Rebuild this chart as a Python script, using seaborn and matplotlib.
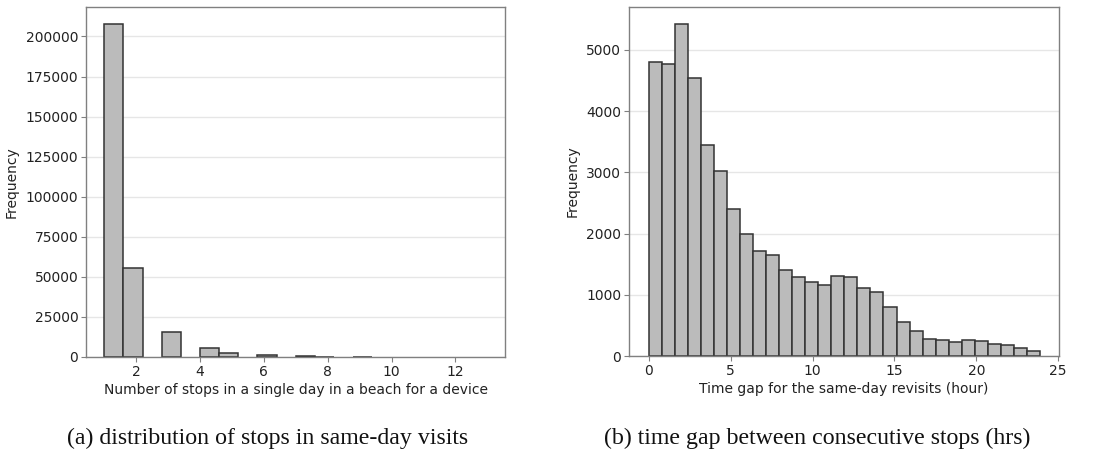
import numpy as np
import pandas as pd
import matplotlib
matplotlib.use("Agg")
import matplotlib.pyplot as plt
import seaborn as sns

# ---- data ----
stop_values = [1, 2, 3, 4, 5, 6, 7, 8, 9, 10, 11, 12, 13]
stop_freq = [208000, 55500, 15700, 5900, 2300, 1250, 600, 300, 150, 0, 0, 0, 0]
stop_bins = 20
stop_range = (1, 13)

gap_counts = [4798, 4776, 5431, 4541, 3444, 3018, 2396, 1987, 1714, 1648,
              1403, 1288, 1212, 1163, 1305, 1283, 1108, 1053, 797, 562,
              415, 278, 257, 235, 262, 251, 202, 186, 136, 76]
gap_range = (0.0, 23.88)
gap_bins = 30

caption_a = "(a) distribution of stops in same-day visits"
caption_b = "(b) time gap between consecutive stops (hrs)"
xlabel_a = "Number of stops in a single day in a beach for a device"
xlabel_b = "Time gap for the same-day revisits (hour)"
ylabel = "Frequency"

# ---- build tables ----
df_stops = pd.DataFrame({"stops": stop_values, "freq": stop_freq})
edges = np.linspace(gap_range[0], gap_range[1], gap_bins + 1)
centers = (edges[:-1] + edges[1:]) / 2
df_gap = pd.DataFrame({"gap": centers, "count": gap_counts})

sns.set_theme(style="white")
plt.rcParams["font.family"] = ["DejaVu Sans"]

fig = plt.figure(figsize=(11.06, 4.55), dpi=100)
ax1 = fig.add_axes([86 / 1106, 98 / 455, 419 / 1106, 350 / 455])
ax2 = fig.add_axes([629 / 1106, 99 / 455, 430 / 1106, 349 / 455])

bar_kw = dict(color="#bbbbbb", alpha=1.0, edgecolor="#333333", linewidth=1.1)

sns.histplot(data=df_stops, x="stops", weights="freq", bins=stop_bins,
             binrange=stop_range, ax=ax1, **bar_kw)
sns.histplot(data=df_gap, x="gap", weights="count", bins=gap_bins,
             binrange=gap_range, ax=ax2, **bar_kw)

# empty bins are not drawn in the reference
for ax in (ax1, ax2):
    for p in ax.patches:
        if p.get_height() == 0:
            p.set_visible(False)

for ax, xl in ((ax1, xlabel_a), (ax2, xlabel_b)):
    ax.set_xlabel(xl, fontsize=10, color="#222222", labelpad=3)
    ax.set_ylabel(ylabel, fontsize=10, color="#222222", labelpad=5)
    ax.yaxis.grid(True, color="#e6e6e6", linewidth=1.0)
    ax.xaxis.grid(False)
    ax.set_axisbelow(True)
    for s in ax.spines.values():
        s.set_color("#808080")
        s.set_linewidth(1.0)
    ax.tick_params(axis="both", which="major", labelsize=10, length=3.5,
                   width=0.8, color="#808080", labelcolor="#222222",
                   bottom=True, left=True, pad=2)

ax1.set_xticks([2, 4, 6, 8, 10, 12])
ax1.set_yticks([0, 25000, 50000, 75000, 100000, 125000, 150000, 175000, 200000])
ax2.set_xticks([0, 5, 10, 15, 20, 25])
ax2.set_yticks([0, 1000, 2000, 3000, 4000, 5000])
ax1.set_xlim(0.43, 13.55)
ax1.set_ylim(0, 218400)
ax2.set_xlim(-1.22, 25.05)

fig.text(268 / 1106, 1 - 438 / 455, caption_a, ha="center", va="center",
         fontsize=17.2, family="Liberation Serif", color="#111111")
fig.text(817 / 1106, 1 - 438 / 455, caption_b, ha="center", va="center",
         fontsize=17.2, family="Liberation Serif", color="#111111")

fig.savefig("out.png", dpi=100)
